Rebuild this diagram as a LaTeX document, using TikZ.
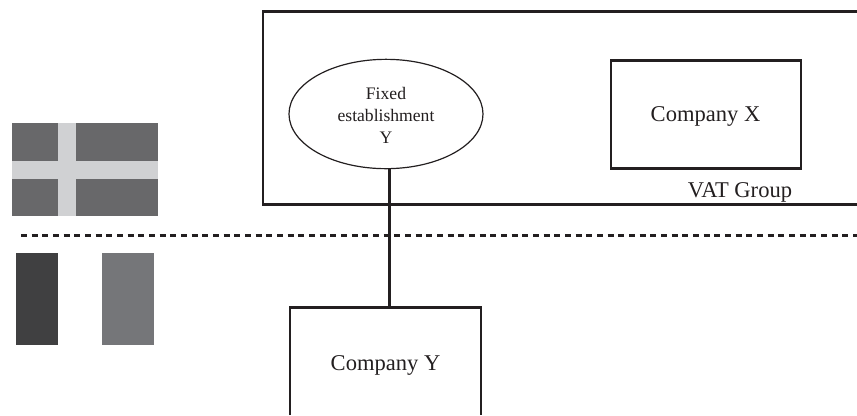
\documentclass[tikz,border=0pt]{standalone}
\usepackage{fontspec}
\setmainfont{Liberation Serif}
\usetikzlibrary{shapes.geometric}
\definecolor{flagdark}{RGB}{104,104,106}
\definecolor{flagcross}{RGB}{208,209,211}
\definecolor{bandblack}{RGB}{64,64,65}
\definecolor{bandgrey}{RGB}{117,118,121}
\definecolor{inkline}{RGB}{35,31,32}
\tikzset{
  boxline/.style={draw=inkline,line width=2.1pt},
  estab/.style={draw=inkline,line width=0.9pt,ellipse,minimum width=145.5pt,minimum height=82pt,inner sep=0pt},
  estabtext/.style={inner sep=0pt,align=center,font=\fontsize{13.2}{16.7}\selectfont,text=inkline},
  company/.style={boxline,rectangle,inner sep=0pt},
  label/.style={text=inkline,font=\fontsize{16.9}{18}\selectfont,anchor=base,inner sep=0pt},
  patch/.style={rectangle,inner sep=0pt,anchor=north west}
}
\begin{document}
\begin{tikzpicture}[x=0.75pt,y=0.75pt,yscale=-1,xscale=1]
\useasboundingbox (0,0) rectangle (857,415);

%flag with cross
\node[patch,fill=flagdark,minimum width=109.5pt,minimum height=69.75pt] (flagA) at (12,123) {};
\node[patch,fill=flagcross,minimum width=13.5pt,minimum height=69.75pt] (flagB) at (58,123) {};
\node[patch,fill=flagcross,minimum width=109.5pt,minimum height=13.5pt] (flagC) at (12,160.5) {};
%flag with bands
\node[patch,fill=bandblack,minimum width=31.5pt,minimum height=68.5pt] (bandA) at (16,253) {};
\node[patch,fill=bandgrey,minimum width=39pt,minimum height=68.5pt] (bandB) at (102,253) {};

%border line
\coordinate (borderL) at (21,235);
\coordinate (borderR) at (857,235);
\draw[inkline,line width=2.25pt,dash pattern=on 4.5pt off 3.5pt] (borderL) -- (borderR);

%VAT group, open on the right
\coordinate (groupNE) at (857,11.5);
\coordinate (groupNW) at (263,11.5);
\coordinate (groupSW) at (263,204.5);
\coordinate (groupSE) at (857,204.5);
\draw[boxline] (groupNE) -- (groupNW) -- (groupSW) -- (groupSE);

\node[estab,fill=white] (fixedY) at (386,114) {};
\node[estabtext] (fixedText) at (386,115.5) {Fixed\\establishment\\Y};
\node[company,minimum width=142.5pt,minimum height=81pt] (companyX) at (706,114.5) {};
\node[label] (labelX) at (705.5,121) {Company X};
\node[label] (vat) at (740,197.5) {VAT Group};

%Company Y runs off the bottom
\coordinate (bottomL) at (290,415);
\coordinate (topL) at (290,307.5);
\coordinate (topR) at (481,307.5);
\coordinate (bottomR) at (481,415);
\draw[boxline] (bottomL) -- (topL) -- (topR) -- (bottomR);
\node[label] (companyY) at (385.5,370.5) {Company Y};
\coordinate (linkA) at ([xshift=2.6pt]fixedY.south);
\coordinate (linkB) at (linkA |- topL);
\draw[inkline,line width=1.9pt] (linkA) -- (linkB);
\end{tikzpicture}
\end{document}
